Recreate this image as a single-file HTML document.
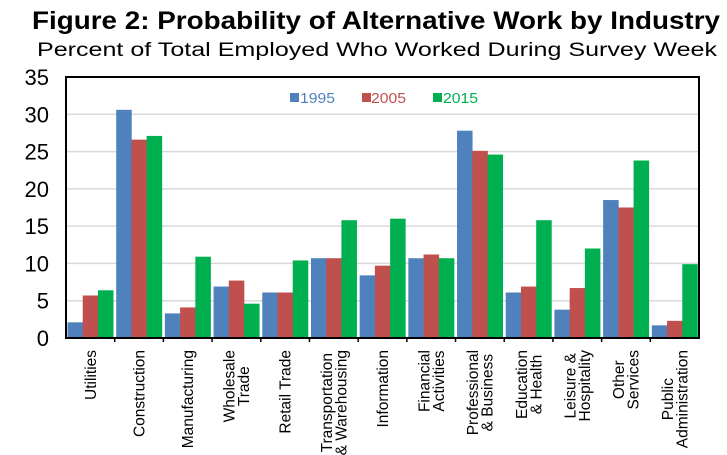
<!DOCTYPE html>
<html><head><meta charset="utf-8"><style>
body{margin:0;background:#fff}
svg{display:block;font-family:"Liberation Sans",Arial,sans-serif}
</style></head><body>
<svg id="s" width="727" height="455" xmlns="http://www.w3.org/2000/svg">
<text x="32" y="29" font-size="25" font-weight="bold" fill="#000" textLength="688" lengthAdjust="spacingAndGlyphs">Figure 2: Probability of Alternative Work by Industry</text>
<text x="37" y="56" font-size="19" fill="#000" textLength="680" lengthAdjust="spacingAndGlyphs">Percent of Total Employed Who Worked During Survey Week</text>
<g id="grid" stroke="#d9d9d9" stroke-width="1.5"></g>
<g id="bars"></g>
<rect x="66" y="77" width="633" height="261" fill="none" stroke="#000" stroke-width="2"/>
<g id="yl" font-size="22" text-anchor="end" fill="#000"></g>
<g id="xl" font-size="15.5" fill="#000"></g>
<g font-size="14.5">
<rect x="290" y="93" width="9" height="9" fill="#4F81BD"/><text x="300" y="103" fill="#4F81BD" textLength="35" lengthAdjust="spacingAndGlyphs">1995</text>
<rect x="362" y="93" width="9" height="9" fill="#C0504D"/><text x="371" y="103" fill="#C0504D" textLength="35" lengthAdjust="spacingAndGlyphs">2005</text>
<rect x="433" y="93" width="9" height="9" fill="#00B050"/><text x="443" y="103" fill="#00B050" textLength="35" lengthAdjust="spacingAndGlyphs">2015</text>
</g>
</svg>
<script>
var NS="http://www.w3.org/2000/svg";
function el(t,a,p,txt){var e=document.createElementNS(NS,t);for(var k in a)e.setAttribute(k,a[k]);if(txt!==undefined)e.textContent=txt;p.appendChild(e);return e;}
var L=66,R=699,T=77,B=338,sc=(B-T)/35;
var g=document.getElementById('grid'),yl=document.getElementById('yl');
for(var v=0;v<=35;v+=5){var y=B-v*sc;if(v>0&&v<35)el('line',{x1:L,x2:R,y1:y,y2:y},g);el('text',{x:49,y:y+8},yl,v);}
var d=[[2.1,5.7,6.4],[30.6,26.6,27.1],[3.3,4.1,10.9],[6.9,7.7,4.6],[6.1,6.1,10.4],[10.7,10.7,15.8],[8.4,9.7,16.0],[10.7,11.2,10.7],[27.8,25.1,24.6],[6.1,6.9,15.8],[3.8,6.7,12.0],[18.5,17.5,23.8],[1.7,2.3,9.9]];
var labs=[["Utilities"],["Construction"],["Manufacturing"],["Wholesale","Trade"],["Retail Trade"],["Transportation","& Warehousing"],["Information"],["Financial","Activities"],["Professional","& Business"],["Education","& Health"],["Leisure &","Hospitality"],["Other","Services"],["Public","Administration"]];
var cols=["#4F81BD","#C0504D","#00B050"];
var n=13,w=(R-L)/n,bw=(w-3)/3,bg=document.getElementById('bars'),xl=document.getElementById('xl');
for(var i=0;i<n;i++){
 var x0=L+i*w+1.5;
 for(var j=0;j<3;j++){var h=d[i][j]*sc;el('rect',{x:x0+j*bw,y:B-h,width:bw+0.3,height:h,fill:cols[j]},bg);}
 if(i>0)el('line',{x1:L+i*w,x2:L+i*w,y1:B,y2:B+4,stroke:'#000','stroke-width':1.5},bg);
 var ls=labs[i],cx=L+i*w+w/2,lh=14.5;
 var tmp=[];var mx=0;
 for(var k=0;k<ls.length;k++){var t=el('text',{},xl,ls[k]);tmp.push(t);mx=Math.max(mx,t.getComputedTextLength());}
 var cy=350+mx/2;
 for(var k=0;k<ls.length;k++){var xx=cx+(k-(ls.length-1)/2)*lh+5.5;
  tmp[k].setAttribute('text-anchor','middle');tmp[k].setAttribute('transform','translate('+xx+','+cy+') rotate(-90)');}
}
</script>
</body></html>
